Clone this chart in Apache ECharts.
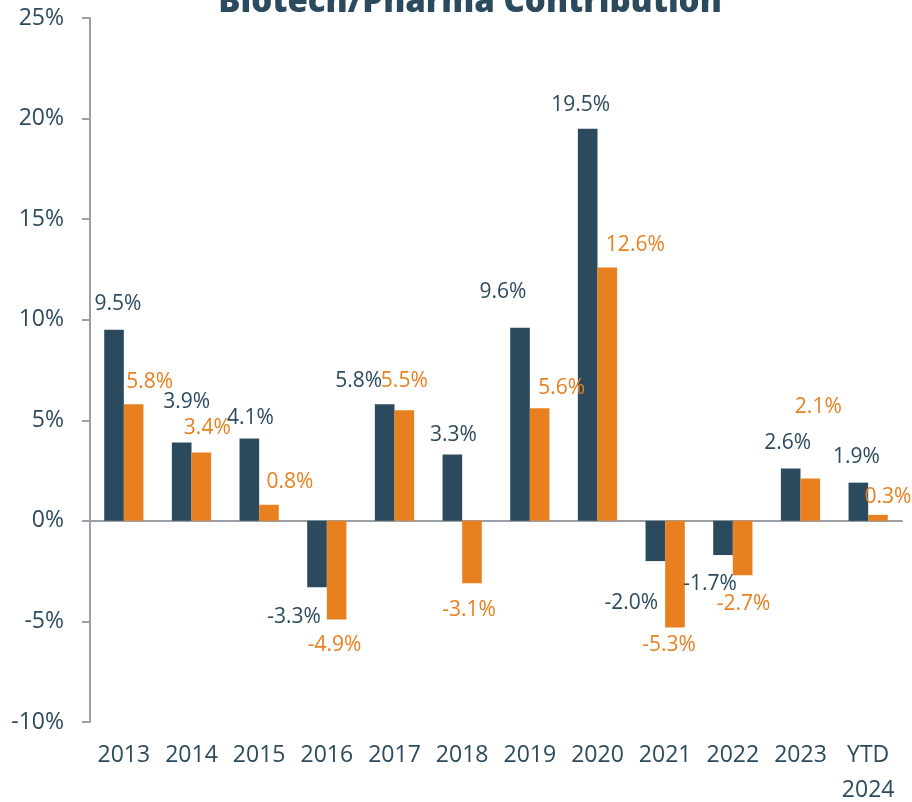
<!DOCTYPE html>
<html>
<head>
<meta charset="utf-8">
<script src="https://cdn.jsdelivr.net/npm/echarts@6/dist/echarts.min.js"></script>
<style>
  html, body { margin: 0; padding: 0; background: #fff; }
  #chart { width: 912px; height: 802px; }
</style>
</head>
<body>
<div id="chart"></div>
<script>
const years = ['2013', '2014', '2015', '2016', '2017', '2018', '2019', '2020', '2021', '2022', '2023', 'YTD\n2024'];
const biotechContribution = [9.5, 3.9, 4.1, -3.3, 5.8, 3.3, 9.6, 19.5, -2.0, -1.7, 2.6, 1.9];
const pharmaContribution = [5.8, 3.4, 0.8, -4.9, 5.5, -3.1, 5.6, 12.6, -5.3, -2.7, 2.1, 0.3];

// label nudges
const blueShift = [[4, -14], [5, -28], [1, -8], [-23, 18], [-26, -11], [1, -7], [-17, -24], [-7, -12], [-24, 30], [-13, 17], [-3, -14], [-2, -14]];
const orangeShift = [[16, -10], [6, -12], [21, -11], [-2, 14], [0, -17], [-3, 15], [22, -8], [28, -10], [-6, 6], [1, 17], [8, -60], [10, -6]];

const dark = '#2c4a5e';
const orange = '#e8801f';
const grey = '#9aa0a6';
const font = '"Open Sans", sans-serif';

function build(values, shift) {
  return values.map((v, i) => ({
    value: v,
    label: {
      position: v < 0 ? 'bottom' : 'top',
      offset: shift[i]
    }
  }));
}

function series(name, values, shift, color) {
  return {
    name: name,
    type: 'bar',
    data: build(values, shift),
    barGap: '0%',
    barCategoryGap: '42%',
    itemStyle: { color: color },
    label: {
      show: true,
      distance: 0,
      color: color,
      fontFamily: font,
      fontSize: 21,
      lineHeight: 24,
      formatter: p => p.value.toFixed(1) + '%'
    }
  };
}

const chart = echarts.init(document.getElementById('chart'));
chart.setOption({
  animation: false,
  title: {
    text: 'Biotech/Pharma Contribution',
    left: 465,
    textAlign: 'center',
    top: -19,
    textStyle: { fontFamily: font, fontWeight: 800, fontSize: 33, color: dark }
  },
  grid: { left: 90, right: 10, top: 18, bottom: 80, outerBoundsMode: 'none', containLabel: false },
  xAxis: [
    {
      type: 'category',
      data: years,
      position: 'bottom',
      axisLine: { show: false, onZero: false },
      axisTick: { show: false },
      axisLabel: {
        interval: 0,
        margin: 16,
        color: dark,
        fontFamily: font,
        fontSize: 23,
        lineHeight: 35
      }
    },
    {
      type: 'category',
      data: years,
      position: 'top',
      axisLine: { show: true, onZero: true, lineStyle: { color: grey, width: 2 } },
      axisTick: { show: false },
      axisLabel: { show: false }
    }
  ],
  yAxis: {
    type: 'value',
    min: -10,
    max: 25,
    interval: 5,
    axisLine: { show: true, lineStyle: { color: grey, width: 2 } },
    axisTick: { show: true, inside: false, length: 8, lineStyle: { color: grey, width: 2 } },
    splitLine: { show: false },
    axisLabel: {
      margin: 26,
      color: dark,
      fontFamily: font,
      fontSize: 23,
      formatter: '{value}%'
    }
  },
  series: [
    series('Biotech', biotechContribution, blueShift, dark),
    series('Pharma', pharmaContribution, orangeShift, orange)
  ]
});
</script>
</body>
</html>
